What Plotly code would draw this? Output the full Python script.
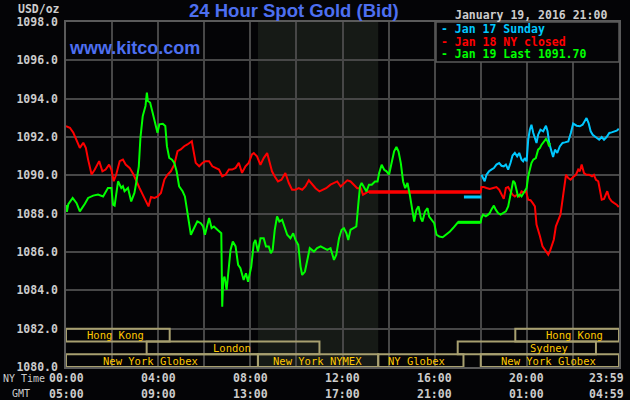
import plotly.graph_objects as go

# ---------------- data (hours of NY time, USD/oz) ----------------
green_hours = [0.00, 0.04, 0.10, 0.29, 0.46, 0.60, 0.82, 0.96, 1.18, 1.39, 1.61, 1.82, 1.97, 2.04, 2.11, 2.26, 2.40, 2.47, 2.54, 2.69,
               2.83, 2.97, 3.07, 3.16, 3.23, 3.33, 3.45, 3.51, 3.55, 3.65, 3.76, 3.88, 3.97, 4.05, 4.20, 4.31, 4.38, 4.48, 4.60, 4.70,
               4.80, 4.91, 5.06, 5.16, 5.27, 5.42, 5.56, 5.70, 5.85, 5.95, 6.03, 6.13, 6.21, 6.32, 6.42, 6.57, 6.74, 6.78, 6.82, 6.88,
               6.97, 7.07, 7.14, 7.24, 7.36, 7.47, 7.57, 7.71, 7.81, 7.90, 8.04, 8.15, 8.22, 8.33, 8.44, 8.58, 8.68, 8.80, 8.89, 8.97,
               9.06, 9.16, 9.26, 9.38, 9.49, 9.60, 9.74, 9.86, 9.96, 10.08, 10.18, 10.25, 10.37, 10.47, 10.58, 10.76, 10.90, 11.05, 11.19, 11.34,
               11.48, 11.63, 11.73, 11.85, 11.96, 12.06, 12.17, 12.25, 12.35, 12.50, 12.60, 12.69, 12.76, 12.83, 12.93, 13.04, 13.15, 13.27, 13.41, 13.52,
               13.59, 13.70, 13.81, 13.91, 14.02, 14.14, 14.24, 14.34, 14.43, 14.53, 14.63, 14.72, 14.82, 14.92, 15.01, 15.11, 15.21, 15.30, 15.40, 15.47,
               15.58, 15.69, 15.76, 15.88, 15.98, 16.08, 16.20, 16.35, 16.49, 16.65, 16.80, 16.91, 17.01, 18.00, 18.03, 18.10, 18.22, 18.32, 18.39, 18.46,
               18.57, 18.65, 18.75, 18.86, 18.97, 19.09, 19.19, 19.26, 19.33, 19.41, 19.48, 19.55, 19.62, 19.70, 19.77, 19.84, 19.91, 19.99, 20.06, 20.13,
               20.20, 20.28, 20.39, 20.49, 20.57, 20.64, 20.74, 20.83, 20.90, 20.97, 21.00]
green_prices = [1088.45, 1088.10, 1088.50, 1088.82, 1088.55, 1088.12, 1088.52, 1088.82, 1088.94, 1089.00, 1088.90, 1089.34, 1089.34, 1088.47, 1088.42, 1089.69, 1089.34, 1089.43, 1089.17, 1089.34,
                1088.64, 1089.08, 1089.78, 1090.47, 1091.96, 1093.09, 1093.62, 1094.31, 1093.88, 1093.80, 1093.27, 1092.57, 1092.22, 1092.66, 1092.69, 1092.57, 1091.52, 1090.91, 1090.82, 1090.65,
                1090.21, 1089.43, 1089.17, 1088.90, 1088.03, 1086.90, 1087.25, 1087.60, 1087.50, 1087.33, 1086.90, 1087.42, 1087.77, 1087.25, 1087.33, 1087.16, 1086.98, 1083.14, 1084.54, 1084.72,
                1084.02, 1085.24, 1086.11, 1086.55, 1086.29, 1085.33, 1085.15, 1084.54, 1084.89, 1084.45, 1085.24, 1086.46, 1086.63, 1086.02, 1086.72, 1086.72, 1086.29, 1086.29, 1085.94, 1086.11,
                1087.16, 1087.85, 1087.59, 1087.68, 1087.24, 1086.90, 1086.72, 1086.98, 1086.63, 1086.37, 1085.24, 1084.80, 1084.98, 1085.59, 1086.20, 1086.02, 1086.20, 1086.29, 1086.20, 1086.11,
                1086.20, 1085.59, 1085.85, 1086.72, 1087.16, 1087.24, 1086.98, 1086.63, 1087.16, 1087.24, 1087.33, 1088.55, 1089.42, 1089.60, 1089.42, 1089.16, 1089.51, 1089.51, 1089.68, 1089.68,
                1090.12, 1090.55, 1090.29, 1090.21, 1090.03, 1090.64, 1091.25, 1091.48, 1091.25, 1090.64, 1089.68, 1089.33, 1089.60, 1088.99, 1088.20, 1087.59, 1088.20, 1088.38, 1087.77, 1087.59,
                1088.11, 1088.29, 1087.85, 1087.68, 1087.50, 1086.90, 1086.81, 1086.77, 1086.90, 1087.05, 1087.25, 1087.43, 1087.55, 1087.55, 1087.77, 1087.95, 1087.86, 1087.95, 1088.03, 1088.21,
                1088.42, 1088.21, 1088.03, 1087.95, 1088.03, 1088.12, 1088.38, 1088.82, 1089.34, 1089.72, 1089.60, 1089.17, 1088.90, 1088.99, 1088.90, 1089.04, 1089.17, 1089.34, 1089.95, 1090.30,
                1090.64, 1090.82, 1090.90, 1091.34, 1091.43, 1091.60, 1091.77, 1091.90, 1091.77, 1091.51, 1091.70]
green_flat_hours = [17.01, 18.00]
green_flat_prices = [1087.55, 1087.55]

red_hours = [0.00, 0.17, 0.32, 0.46, 0.60, 0.75, 0.86, 0.96, 1.11, 1.25, 1.44, 1.58, 1.72, 1.87, 1.97, 2.07, 2.18, 2.33, 2.47, 2.59,
             2.76, 2.93, 3.05, 3.19, 3.33, 3.48, 3.58, 3.69, 3.84, 3.98, 4.12, 4.27, 4.41, 4.55, 4.70, 4.84, 4.98, 5.13, 5.27, 5.46,
             5.53, 5.63, 5.78, 5.93, 6.06, 6.21, 6.35, 6.49, 6.64, 6.78, 6.93, 7.07, 7.21, 7.36, 7.50, 7.64, 7.79, 7.93, 8.07, 8.15,
             8.29, 8.44, 8.58, 8.73, 8.83, 8.94, 9.06, 9.20, 9.35, 9.52, 9.67, 9.81, 9.96, 10.10, 10.25, 10.39, 10.54, 10.69, 10.83, 11.00,
             11.15, 11.29, 11.48, 11.63, 11.77, 11.92, 12.06, 12.21, 12.35, 12.50, 12.64, 12.79, 12.89, 13.01, 13.12, 13.15, 18.00, 18.03, 18.13, 18.25,
             18.39, 18.54, 18.68, 18.80, 18.90, 19.00, 19.09, 19.19, 19.29, 19.38, 19.48, 19.58, 19.67, 19.77, 19.87, 19.96, 20.06, 20.16, 20.25, 20.35,
             20.42, 20.49, 20.57, 20.68, 20.78, 20.86, 20.93, 21.00, 21.07, 21.17, 21.26, 21.36, 21.46, 21.55, 21.62, 21.70, 21.80, 21.90, 22.01, 22.13,
             22.23, 22.30, 22.38, 22.48, 22.59, 22.71, 22.83, 22.91, 23.00, 23.10, 23.17, 23.25, 23.35, 23.43, 23.49, 23.58, 23.68, 23.78, 23.90, 23.99]
red_prices = [1092.57, 1092.48, 1092.22, 1091.87, 1091.43, 1091.70, 1091.43, 1090.82, 1090.04, 1090.30, 1090.74, 1090.21, 1090.30, 1090.56, 1090.30, 1089.69, 1090.04, 1090.74, 1090.82, 1090.56,
              1090.39, 1090.04, 1089.69, 1089.34, 1088.99, 1088.64, 1088.38, 1088.87, 1088.82, 1088.90, 1089.08, 1089.78, 1090.04, 1090.21, 1090.56, 1091.26, 1091.35, 1091.52, 1091.61, 1091.78,
              1091.35, 1090.65, 1090.47, 1090.65, 1090.74, 1090.74, 1090.47, 1090.39, 1090.30, 1089.95, 1090.04, 1090.30, 1090.30, 1090.39, 1090.65, 1090.13, 1090.47, 1090.65, 1091.09, 1091.16,
              1090.99, 1090.55, 1090.90, 1091.16, 1090.73, 1090.21, 1089.94, 1089.68, 1089.77, 1090.12, 1089.60, 1089.25, 1089.25, 1089.33, 1089.25, 1089.42, 1089.74, 1089.51, 1089.33, 1089.16,
              1089.25, 1089.33, 1089.51, 1089.60, 1089.68, 1089.42, 1089.60, 1089.74, 1089.68, 1089.51, 1089.33, 1089.33, 1088.99, 1089.07, 1089.16, 1089.13, 1089.13, 1089.39, 1089.39, 1089.34,
              1089.29, 1089.34, 1089.39, 1089.25, 1088.99, 1088.77, 1089.34, 1089.39, 1089.17, 1088.99, 1088.90, 1088.99, 1088.90, 1089.17, 1089.11, 1089.17, 1088.73, 1088.70, 1088.56, 1088.38,
              1087.43, 1087.17, 1086.82, 1086.30, 1086.12, 1085.95, 1085.86, 1086.03, 1086.30, 1086.64, 1087.34, 1087.60, 1087.95, 1088.73, 1089.34, 1090.03, 1089.86, 1089.77, 1089.91, 1090.03,
              1090.30, 1090.21, 1090.56, 1090.12, 1090.03, 1090.03, 1089.95, 1090.03, 1089.77, 1089.69, 1089.25, 1088.73, 1088.77, 1088.99, 1089.17, 1088.82, 1088.64, 1088.56, 1088.47, 1088.35]
red_flat_hours = [13.15, 18.00]
red_flat_prices = [1089.13, 1089.13]

cyan_hours = [18.03, 18.10, 18.17, 18.25, 18.36, 18.46, 18.57, 18.68, 18.80, 18.90, 19.00, 19.09, 19.19, 19.29, 19.38, 19.48, 19.58, 19.67, 19.77, 19.84,
              19.91, 19.99, 20.06, 20.13, 20.20, 20.28, 20.35, 20.42, 20.49, 20.59, 20.71, 20.83, 20.90, 20.97, 21.07, 21.14, 21.22, 21.32, 21.43, 21.55,
              21.65, 21.80, 21.91, 22.01, 22.16, 22.30, 22.42, 22.52, 22.59, 22.68, 22.77, 22.86, 22.96, 23.06, 23.14, 23.25, 23.35, 23.46, 23.58, 23.68,
              23.78, 23.90, 23.99]
cyan_prices = [1090.03, 1089.86, 1089.69, 1090.03, 1090.21, 1090.30, 1090.38, 1090.56, 1090.64, 1090.50, 1090.47, 1090.56, 1090.30, 1090.64, 1091.03, 1091.17, 1090.99, 1091.17, 1090.82, 1090.73,
               1090.90, 1090.73, 1091.86, 1092.38, 1092.64, 1092.21, 1091.95, 1091.69, 1092.12, 1092.38, 1092.30, 1092.59, 1092.30, 1091.69, 1091.25, 1090.96, 1091.34, 1091.17, 1091.51, 1091.69,
               1091.72, 1091.77, 1092.21, 1092.70, 1092.59, 1092.56, 1092.64, 1092.87, 1092.99, 1092.73, 1092.30, 1092.12, 1092.03, 1091.95, 1091.86, 1092.00, 1091.86, 1092.00, 1092.21, 1092.24,
               1092.30, 1092.33, 1092.43]
cyan_flat_hours = [17.27, 18.03]
cyan_flat_prices = [1088.87, 1088.87]

y_ticks = [1080, 1082, 1084, 1086, 1088, 1090, 1092, 1094, 1096, 1098]
x_tick_hours = [0, 4, 8, 12, 16, 20, 23.99]
ny_time_labels = ["00:00", "04:00", "08:00", "12:00", "16:00", "20:00", "23:59"]
gmt_labels = ["05:00", "09:00", "13:00", "17:00", "21:00", "01:00", "04:59"]

legend_labels = ["- Jan 17 Sunday", "- Jan 18 NY closed", "- Jan 19 Last 1091.70"]

# trading sessions: (row, start hour, end hour, label, label centre hour)
sessions = [
    (0, 0.0, 4.5, "Hong Kong", 2.13),
    (0, 19.5, 24.0, "Hong Kong", 22.05),
    (1, 3.5, 11.0, "London", 7.2),
    (1, 17.0, 23.0, "Sydney", 20.98),
    (2, 0.0, 8.33, "New York Globex", 3.66),
    (2, 8.33, 13.55, "New York NYMEX", 10.92),
    (2, 13.55, 17.25, "NY Globex", 15.2),
    (2, 18.0, 24.0, "New York Globex", 20.96),
]
nymex_start, nymex_end = 8.33, 13.55

# ---------------- styling ----------------
W, H = 630, 400
L, R, T, B = 66, 11, 22, 33
BG = "#040406"
GRID = "#474747"
FRAME = "#5a5a5a"
TXT = "#cccccc"
MONO = "DejaVu Sans Mono"
GREEN, RED, CYAN = "#00ff00", "#ff0000", "#00c8ff"
SESS_LINE = "#a8a070"
SESS_TXT = "#ffc800"

def px(xp):
    return (xp - L) / (W - L - R)

def py(yp):
    return (H - B - yp) / (H - T - B)

fig = go.Figure()

def line(x, y, color, width):
    fig.add_trace(go.Scatter(x=x, y=y, mode="lines", line=dict(color=color, width=width),
                             hoverinfo="skip", showlegend=False))

line(red_hours, red_prices, RED, 2)
line(red_flat_hours, red_flat_prices, RED, 3.5)
line(cyan_flat_hours, cyan_flat_prices, CYAN, 3)
line(cyan_hours, cyan_prices, CYAN, 2)
line(green_hours, green_prices, GREEN, 2)
line(green_flat_hours, green_flat_prices, GREEN, 3)

shapes = []
# NYMEX shaded session
shapes.append(dict(type="rect", xref="x", yref="y", x0=nymex_start, x1=nymex_end, y0=1080, y1=1098,
                   fillcolor="#161a16", line=dict(width=0), layer="below"))
row_h = 2.0 / 3.0
annotations = []
for row, s, e, lab, c in sessions:
    y1 = 1082 - row * row_h
    y0 = y1 - row_h
    shapes.append(dict(type="rect", xref="x", yref="y", x0=s, x1=e, y0=y0, y1=y1,
                       line=dict(color=SESS_LINE, width=2), fillcolor="rgba(0,0,0,0)", layer="above"))
    annotations.append(dict(x=c, y=(y0 + y1) / 2, xref="x", yref="y", text=lab, showarrow=False,
                            font=dict(family=MONO, size=10.5, color=SESS_TXT), xanchor="center", yanchor="middle"))

# legend box
shapes.append(dict(type="rect", xref="paper", yref="paper", x0=px(436), x1=1.0, y0=py(62), y1=1.0,
                   fillcolor=BG, line=dict(color=FRAME, width=1.5), layer="above"))
leg_colors = [CYAN, RED, GREEN]
for i, (lab, col) in enumerate(zip(legend_labels, leg_colors)):
    annotations.append(dict(x=px(439), y=py(29.5 + 12 * i), xref="paper", yref="paper", text=lab, showarrow=False,
                            font=dict(family=MONO, size=11.5, color=col, weight="bold"), xanchor="left", yanchor="middle"))

# x tick labels (two rows)
for h, a, b in zip(x_tick_hours, ny_time_labels, gmt_labels):
    last = h > 23
    for lab, yy in ((a, 378), (b, 393.5)):
        annotations.append(dict(x=h, y=py(yy), xref="x", yref="paper", text=lab, showarrow=False,
                                font=dict(family=MONO, size=11.5, color=TXT, weight="bold"),
                                xanchor="right" if last else "center", xshift=7 if last else 0, yanchor="middle"))

annotations += [
    dict(x=px(24), y=py(378), xref="paper", yref="paper", text="NY Time", showarrow=False,
         font=dict(family=MONO, size=10, color=TXT), xanchor="center", yanchor="middle"),
    dict(x=px(21), y=py(393.5), xref="paper", yref="paper", text="GMT", showarrow=False,
         font=dict(family=MONO, size=10, color=TXT), xanchor="center", yanchor="middle"),
    dict(x=px(62), y=py(8.5), xref="paper", yref="paper", text="USD/oz", showarrow=False,
         font=dict(family=MONO, size=11.5, color=TXT, weight="bold"), xanchor="right", yanchor="middle"),
    dict(x=px(294), y=py(10.5), xref="paper", yref="paper", text="24 Hour Spot Gold (Bid)", showarrow=False,
         font=dict(family="Liberation Sans", size=18.5, color="#4d6ff0", weight="bold"), xanchor="center", yanchor="middle"),
    dict(x=px(67), y=py(48), xref="paper", yref="paper", text="www.kitco.com", showarrow=False,
         font=dict(family="Liberation Sans", size=18, color="#4d6ff0", weight="bold"), xanchor="left", yanchor="middle"),
    dict(x=px(608.5), y=py(15), xref="paper", yref="paper", text="January 19, 2016 21:00", showarrow=False,
         font=dict(family=MONO, size=11.5, color=TXT, weight="bold"), xanchor="right", yanchor="middle"),
]

fig.update_layout(
    width=W, height=H,
    margin=dict(l=L, r=R, t=T, b=B, pad=0, autoexpand=False),
    paper_bgcolor=BG, plot_bgcolor=BG,
    showlegend=False,
    shapes=shapes, annotations=annotations,
    xaxis=dict(range=[0, 24], dtick=2, tick0=0, showgrid=True, gridcolor=GRID, gridwidth=1.5,
               showticklabels=False, zeroline=False, showline=True, mirror=True, linecolor=FRAME, linewidth=1.5,
               fixedrange=True, automargin=False),
    yaxis=dict(range=[1080, 1098], tickvals=y_ticks, ticktext=[f"{v:.1f}" for v in y_ticks],
               showgrid=True, gridcolor=GRID, gridwidth=1.5, zeroline=False, showline=True, mirror=True,
               linecolor=FRAME, linewidth=1.5, ticks="", ticklabelstandoff=4, automargin=False,
               tickfont=dict(family=MONO, size=11.5, color=TXT, weight="bold"), fixedrange=True),
)

fig.write_html(
    "out.html",
    config={"displayModeBar": False},
    post_script="document.body.style.margin='0';document.body.style.background='#040406';",
)
